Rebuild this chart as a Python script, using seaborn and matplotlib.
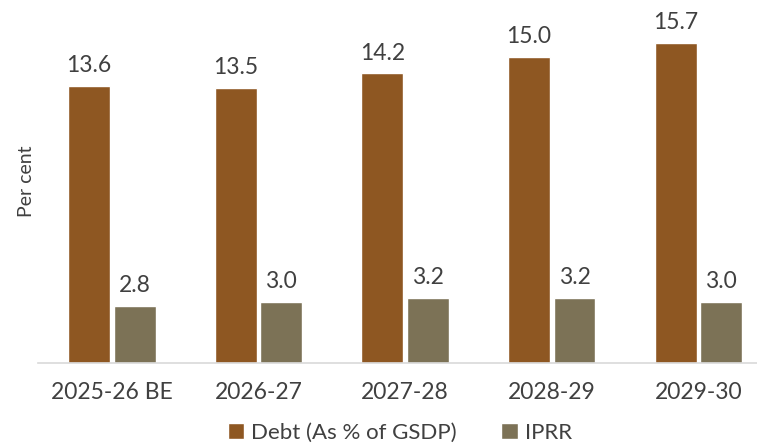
import numpy as np
import pandas as pd
import seaborn as sns
import matplotlib.pyplot as plt

# values
years = ["2025-26 BE", "2026-27", "2027-28", "2028-29", "2029-30"]
debt = [13.6, 13.5, 14.2, 15.0, 15.7]
iprr = [2.8, 3.0, 3.2, 3.2, 3.0]
series_names = ["Debt (As % of GSDP)", "IPRR"]
colors = ["#8E5722", "#7C7256"]

df = pd.DataFrame({
    "year": years * 2,
    "value": debt + iprr,
    "series": [series_names[0]] * len(years) + [series_names[1]] * len(years),
})

sns.set_style("white")
plt.rcParams['font.family'] = ['Lato', 'DejaVu Sans']
txt = "#404040"

fig = plt.figure(figsize=(7.57, 4.43), dpi=100)
ax = fig.add_axes([0.05, 0.1806, 0.95, 0.8194])

sns.barplot(data=df, x="year", y="value", hue="series", palette=colors,
            saturation=1, width=0.62, gap=0.08, ax=ax, legend=True)

for cont in ax.containers:
    ax.bar_label(cont, fmt="%.1f", padding=7, fontsize=16.5, color=txt)

ax.set_ylim(0, 17.8)
ax.set_xlim(-0.505, 4.4)
ax.set_yticks([])
ax.set_xlabel("")
ax.set_ylabel("Per cent", fontsize=14, color=txt, labelpad=2)
ax.tick_params(axis="x", length=0, pad=14, labelsize=16.5, labelcolor=txt)
for s in ["top", "right", "left"]:
    ax.spines[s].set_visible(False)
ax.spines["bottom"].set_color("#D9D9D9")
ax.spines["bottom"].set_linewidth(1.2)

handles, labels = ax.get_legend_handles_labels()
ax.get_legend().remove()
fig.legend(handles, labels, loc="lower center", bbox_to_anchor=(0.528, -0.045),
           ncol=2, frameon=False, fontsize=16, handlelength=0.75, handleheight=0.75,
           handletextpad=0.3, columnspacing=2.0, labelcolor=txt)

fig.savefig("out.png", dpi=100)
